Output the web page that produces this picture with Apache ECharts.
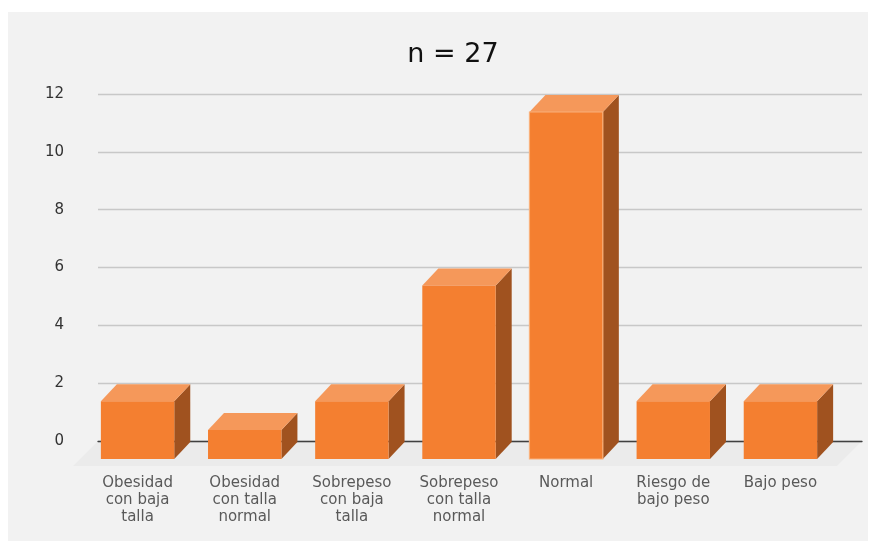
<!DOCTYPE html>
<html>
<head>
<meta charset="utf-8">
<script src="https://cdn.jsdelivr.net/npm/echarts@6/dist/echarts.min.js"></script>
<style>
  html, body { margin: 0; padding: 0; background: #ffffff; }
  #chart { width: 873px; height: 545px; }
</style>
</head>
<body>
<div id="chart"></div>
<script>
// Nutritional status categories and their counts (n = 27)
const categories = [
  'Obesidad\ncon baja\ntalla',
  'Obesidad\ncon talla\nnormal',
  'Sobrepeso\ncon baja\ntalla',
  'Sobrepeso\ncon talla\nnormal',
  'Normal',
  'Riesgo de\nbajo peso',
  'Bajo peso'
];
const counts = [2, 1, 2, 6, 12, 2, 2];
const titleText = 'n = 27';
const yMin = 0, yMax = 12, yStep = 2;

// 3D look: offset from the front face of a column to its back face
const DX = 16, DY = -17;
const FRONT = '#F47F30', TOP = '#F5985A', SIDE = '#A0521F';

const chart = echarts.init(document.getElementById('chart'), null, { renderer: 'canvas' });

const maxIdx = counts.indexOf(Math.max.apply(null, counts));

function renderColumn(params, api) {
  const idx = api.value(0);
  const val = api.value(1);
  const top = api.coord([idx, val]);
  const base = api.coord([idx, 0]);
  const band = api.size([1, 0])[0];
  const w = band * 0.685;
  const x0 = top[0] - w / 2, x1 = top[0] + w / 2;
  const yT = top[1], yB = base[1];
  const outline = idx === maxIdx;
  return {
    type: 'group',
    children: [
      {
        type: 'polygon',
        shape: { points: [[x1, yT], [x1 + DX, yT + DY], [x1 + DX, yB + DY], [x1, yB]] },
        style: { fill: SIDE }
      },
      {
        type: 'polygon',
        shape: { points: [[x0, yT], [x1, yT], [x1 + DX, yT + DY], [x0 + DX, yT + DY]] },
        style: { fill: TOP }
      },
      {
        type: 'rect',
        shape: { x: x0, y: yT, width: w, height: yB - yT },
        style: outline ? { fill: FRONT, stroke: '#F9B07A', lineWidth: 1.2 } : { fill: FRONT }
      }
    ]
  };
}

const option = {
  backgroundColor: '#ffffff',
  animation: false,
  title: {
    text: titleText,
    left: 448,
    top: 36,
    textAlign: 'center',
    textStyle: { fontFamily: 'DejaVu Sans', fontSize: 27, fontWeight: 'normal', color: '#111111' }
  },
  grid: [
    // back wall: value gridlines and the zero line
    { left: 98, right: 11, top: 94, bottom: 104 },
    // front plane: columns and category labels
    { left: 84, right: 39, top: 112, bottom: 86 }
  ],
  xAxis: [
    {
      gridIndex: 0, type: 'value', min: 0, max: 1,
      axisLine: { show: true, onZero: false, lineStyle: { color: '#404040', width: 1.3 } },
      axisTick: { show: false }, axisLabel: { show: false }, splitLine: { show: false }
    },
    {
      gridIndex: 1, type: 'category', data: categories,
      axisLine: { show: false }, axisTick: { show: false },
      axisLabel: {
        interval: 0, margin: 16, color: '#595959',
        fontFamily: 'DejaVu Sans', fontSize: 15, lineHeight: 17
      }
    }
  ],
  yAxis: [
    {
      gridIndex: 0, type: 'value', min: yMin, max: yMax, interval: yStep,
      axisLine: { show: false }, axisTick: { show: false },
      axisLabel: { margin: 34, color: '#333333', fontFamily: 'DejaVu Sans', fontSize: 15 },
      splitLine: { lineStyle: { color: '#C8C8C8', width: 1.3 } }
    },
    {
      gridIndex: 1, type: 'value', min: yMin, max: yMax, interval: yStep,
      show: false, splitLine: { show: false }
    }
  ],
  series: [
    {
      type: 'custom',
      xAxisIndex: 1, yAxisIndex: 1,
      renderItem: renderColumn,
      data: counts.map((v, i) => [i, v]),
      z: 5
    }
  ]
};

chart.setOption(option);

// Panel background and the receding floor under the columns
const backL = chart.convertToPixel({ xAxisIndex: 0, yAxisIndex: 0 }, [0, 0]);
const backR = chart.convertToPixel({ xAxisIndex: 0, yAxisIndex: 0 }, [1, 0]);
const FD = 25;
chart.setOption({
  graphic: [
    {
      type: 'rect', z: -10, silent: true,
      shape: { x: 8, y: 12, width: 860, height: 529 },
      style: { fill: '#F2F2F2' }
    },
    {
      type: 'polygon', z: -5, silent: true,
      shape: { points: [
        [backL[0], backL[1]], [backR[0], backR[1]],
        [backR[0] - FD, backR[1] + FD], [backL[0] - FD, backL[1] + FD]
      ] },
      style: { fill: '#EBEBEB' }
    }
  ]
});
</script>
</body>
</html>
